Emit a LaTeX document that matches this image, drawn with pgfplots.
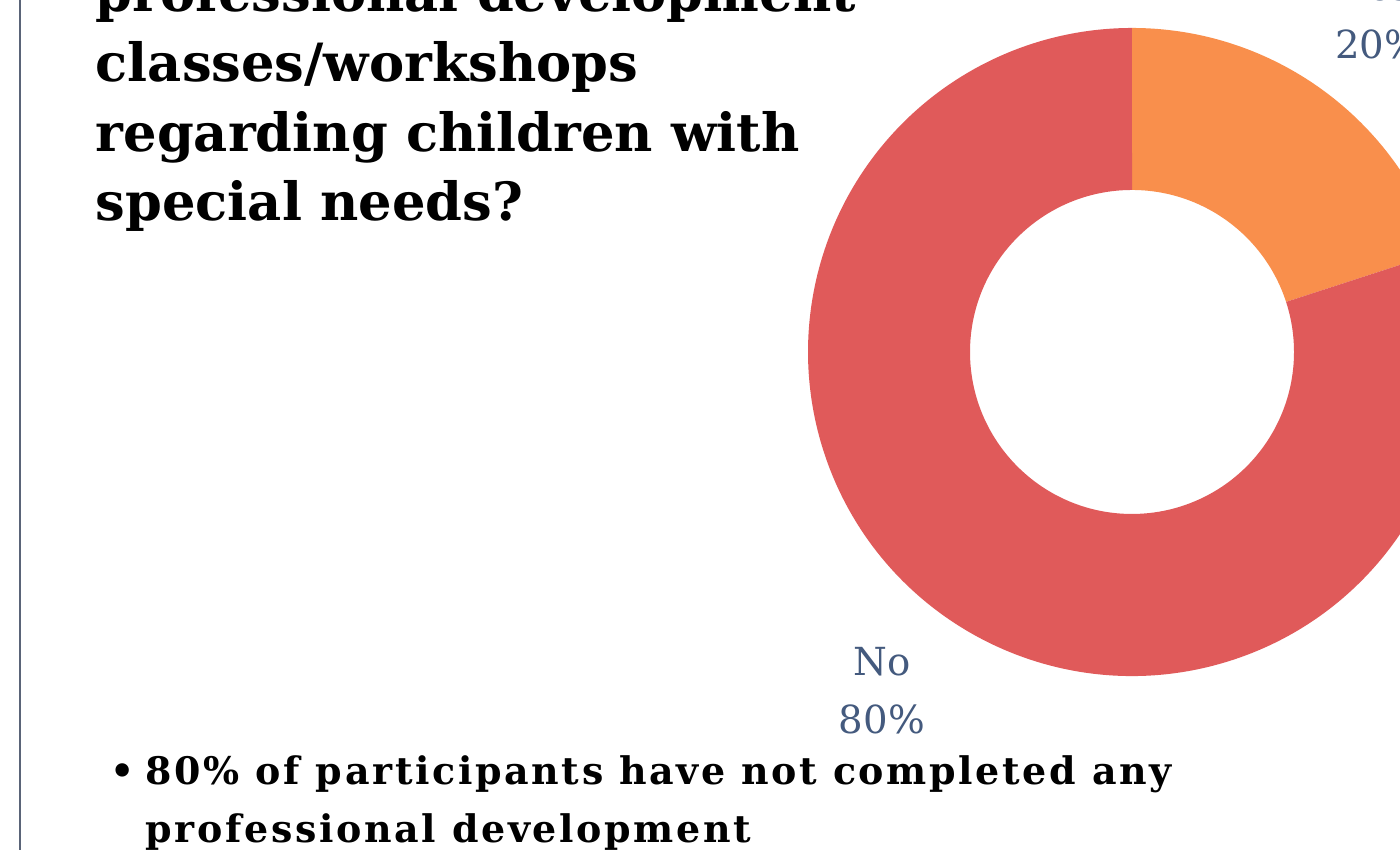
\documentclass[border=0pt]{standalone}
\usepackage{pgfplots}
\pgfplotsset{compat=1.18}
\usepackage{pgfplotstable}
\usepackage{fontspec}
\setmainfont{DejaVu Serif}
\newfontfamily\spacedfont[LetterSpace=7]{DejaVu Serif}
\definecolor{yesc}{HTML}{F98F4C}
\definecolor{noc}{HTML}{E05A5A}
\definecolor{labc}{HTML}{445A7E}
\definecolor{bordc}{HTML}{5A6478}
\pgfplotstableread{
label value
Yes 20
No 80
}\piedata
\begin{document}
\begin{tikzpicture}
\pgfplotstablegetelem{0}{value}\of\piedata \pgfmathsetmacro\va{\pgfplotsretval}
\pgfplotstablegetelem{1}{value}\of\piedata \pgfmathsetmacro\vb{\pgfplotsretval}
\pgfmathsetmacro\da{\va/(\va+\vb)*360}
\pgfmathsetmacro\db{\vb/(\va+\vb)*360}
\pgfmathsetmacro\ea{90-\da}
\pgfmathsetmacro\ia{\ea+180}
\pgfmathsetmacro\eb{\ea-\db}
\pgfmathsetmacro\ib{\eb+180}
\useasboundingbox (0,0) rectangle (14,8.5);
\clip (0,0) rectangle (14,8.5);
\fill[white] (0,0) rectangle (14,8.5);
\draw[bordc, line width=0.02cm] (0.2,0) -- (0.2,8.5);
\begin{scope}[font=\fontsize{15}{19.8}\selectfont\bfseries]
\node[anchor=base west, inner sep=0pt] at (0.95,8.38) {professional development};
\node[anchor=base west, inner sep=0pt] at (0.95,7.68) {classes/workshops};
\node[anchor=base west, inner sep=0pt] at (0.95,6.98) {regarding children with};
\node[anchor=base west, inner sep=0pt] at (0.95,6.29) {special needs?};
\end{scope}
\begin{scope}[font=\fontsize{10.8}{16.5}\spacedfont\bfseries]
\node[anchor=base west, inner sep=0pt] at (1.10,0.65) {\textbullet};
\node[anchor=base west, inner sep=0pt] at (1.45,0.65) {80\% of participants have not completed any};
\node[anchor=base west, inner sep=0pt] at (1.45,0.07) {professional development};
\end{scope}
\begin{axis}[at={(11.32cm,4.98cm)}, anchor=center, scale only axis,
  width=6.48cm, height=6.48cm, xmin=-1, xmax=1, ymin=-1, ymax=1,
  hide axis, clip=false]
\fill[yesc] (axis cs:0,0) ++(90:3.24cm) arc[start angle=90, delta angle=-\da, radius=3.24cm]
  -- ++(\ia:1.62cm) arc[start angle=\ea, delta angle=\da, radius=1.62cm] -- cycle;
\fill[noc] (axis cs:0,0) ++(\ea:3.24cm) arc[start angle=\ea, delta angle=-\db, radius=3.24cm]
  -- ++(\ib:1.62cm) arc[start angle=\eb, delta angle=\db, radius=1.62cm] -- cycle;
\node[labc, align=center, font=\fontsize{11}{16.5}\selectfont] at (axis cs:-0.772,-1.046) {No\\80\%};
\node[labc, align=center, font=\fontsize{11}{16.5}\selectfont] at (axis cs:0.76,1.037) {Yes\\20\%};
\end{axis}
\end{tikzpicture}
\end{document}
